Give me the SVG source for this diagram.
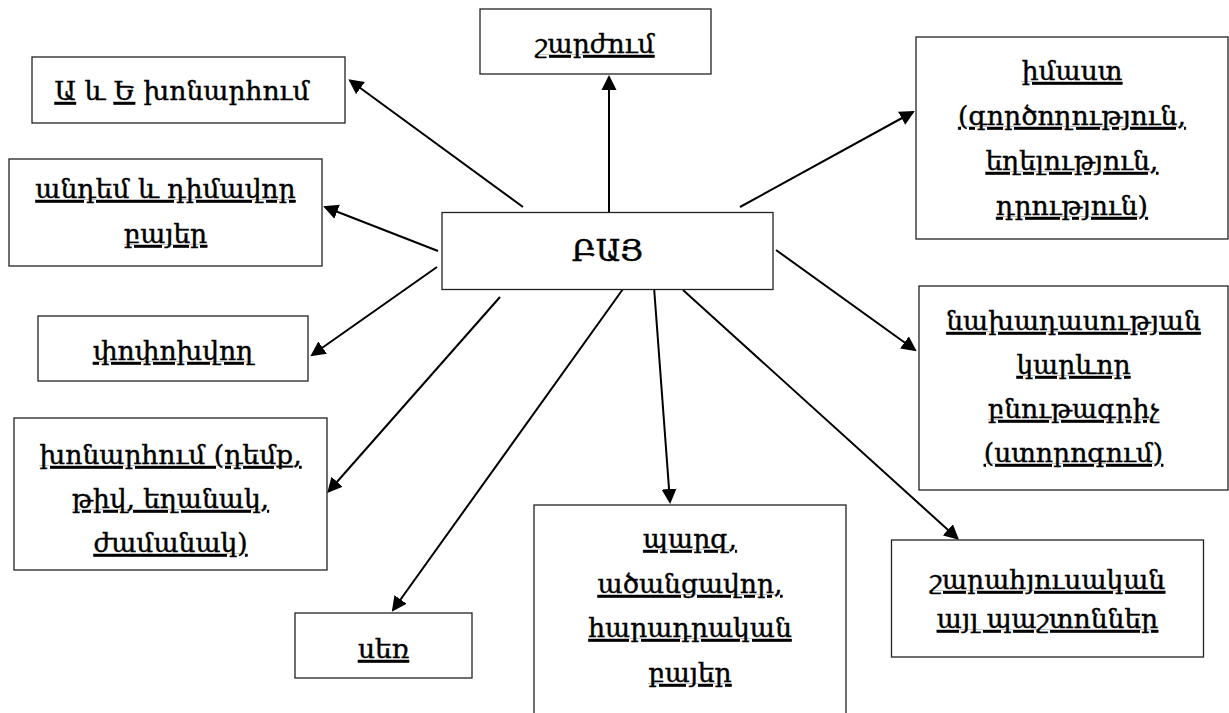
<svg xmlns="http://www.w3.org/2000/svg" width="1229" height="713" viewBox="0 0 1229 713">
<style>
.box{fill:#fff;stroke:#222;stroke-width:1.3}
.t{font-family:"DejaVu Serif","Liberation Serif",serif;font-size:26.5px;fill:#000;stroke:#000;stroke-width:0.45;text-anchor:middle}
.u{text-decoration:underline}
.big{font-size:30px;stroke-width:0.6}
.c{stroke:#000;stroke-width:2;fill:none;marker-end:url(#ah)}
</style>
<defs>
<marker id="ah" markerUnits="userSpaceOnUse" viewBox="0 0 16 16" markerWidth="16" markerHeight="16" refX="13" refY="8" orient="auto">
<path d="M0,0.5 L15,8 L0,15.5 z" fill="#000"/>
</marker>
</defs>
<g id="connectors">
<path class="c" d="M609,212 L609,77"/>
<path class="c" d="M523,207 L350,80.5"/>
<path class="c" d="M438,251 L325,207"/>
<path class="c" d="M437,267 L312,355"/>
<path class="c" d="M500,297 L328.5,491.5"/>
<path class="c" d="M623,289 L393,610"/>
<path class="c" d="M654,287 L670,502"/>
<path class="c" d="M683,290 L957.5,538.5"/>
<path class="c" d="M776,250 L915,350"/>
<path class="c" d="M740,207 L913,112"/>
</g>
<g id="node-bay">
<rect class="box" x="442" y="212.5" width="331" height="77"/>
<text class="t big" x="607.5" y="261">ԲԱՅ</text>
</g>
<g id="node-sharzhum">
<rect class="box" x="480" y="9" width="231" height="65"/>
<text class="t u" x="595" y="53">շարժում</text>
</g>
<g id="node-a-e">
<rect class="box" x="32" y="57" width="313" height="66"/>
<text class="t" x="182" y="100"><tspan class="u">Ա</tspan> և <tspan class="u">Ե</tspan> խոնարհում</text>
</g>
<g id="node-andem">
<rect class="box" x="9" y="159" width="313" height="107"/>
<text class="t u" x="165.5" y="198">անդեմ և դիմավոր</text>
<text class="t u" x="165.5" y="243">բայեր</text>
</g>
<g id="node-popokhvogh">
<rect class="box" x="38" y="316" width="270" height="65"/>
<text class="t u" x="173" y="360">փոփոխվող</text>
</g>
<g id="node-khonarhum">
<rect class="box" x="14" y="418" width="313" height="152"/>
<text class="t u" x="170.5" y="464">խոնարհում (դեմք,</text>
<text class="t u" x="170.5" y="508">թիվ, եղանակ,</text>
<text class="t u" x="170.5" y="552">ժամանակ)</text>
</g>
<g id="node-ser">
<rect class="box" x="295" y="613" width="177" height="65"/>
<text class="t u" x="383.5" y="658">սեռ</text>
</g>
<g id="node-parz">
<rect class="box" x="534" y="505" width="312" height="220"/>
<text class="t u" x="690" y="548">պարզ,</text>
<text class="t u" x="690" y="593">ածանցավոր,</text>
<text class="t u" x="690" y="637">հարադրական</text>
<text class="t u" x="690" y="682">բայեր</text>
</g>
<g id="node-sharahyusakan">
<rect class="box" x="891.5" y="540" width="312" height="117"/>
<text class="t u" x="1047.5" y="589">շարահյուսական</text>
<text class="t u" x="1047.5" y="628">այլ պաշտոններ</text>
</g>
<g id="node-nakhadasutyan">
<rect class="box" x="919" y="286" width="309" height="204"/>
<text class="t u" x="1073.5" y="330">նախադասության</text>
<text class="t u" x="1073.5" y="374">կարևոր</text>
<text class="t u" x="1073.5" y="418">բնութագրիչ</text>
<text class="t u" x="1073.5" y="462">(ստորոգում)</text>
</g>
<g id="node-imast">
<rect class="box" x="916" y="37" width="312" height="202"/>
<text class="t u" x="1072" y="80">իմաստ</text>
<text class="t u" x="1072" y="125">(գործողություն,</text>
<text class="t u" x="1072" y="170">եղելություն,</text>
<text class="t u" x="1072" y="215">դրություն)</text>
</g>
</svg>
